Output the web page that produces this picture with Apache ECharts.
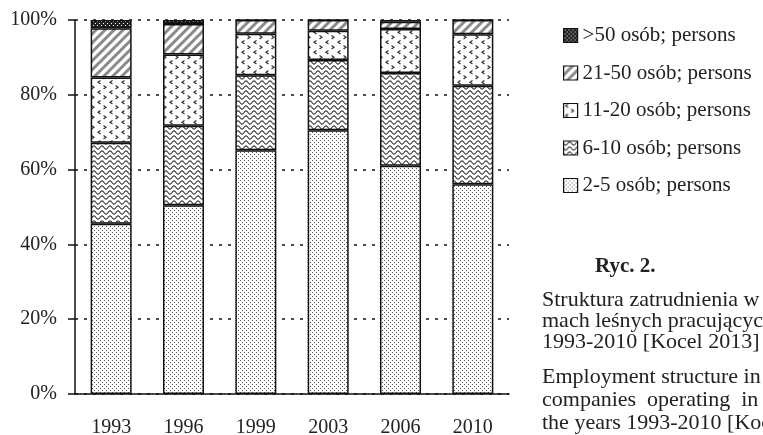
<!DOCTYPE html>
<html>
<head>
<meta charset="utf-8">
<script src="https://cdn.jsdelivr.net/npm/echarts@6/dist/echarts.min.js"></script>
<style>
  html, body { margin: 0; padding: 0; background: #fff; }
  #main { width: 763px; height: 435px; }
</style>
</head>
<body>
<div id="main"></div>
<script>
// dane (udział %)
var years = ['1993', '1996', '1999', '2003', '2006', '2010'];
var s2_5 = [45.5, 50.5, 65.2, 70.5, 61.0, 56.1];
var s6_10 = [21.7, 21.2, 20.0, 18.8, 24.8, 26.3];
var s11_20 = [17.4, 19.1, 11.1, 7.8, 11.8, 13.8];
var s21_50 = [13.2, 8.1, 3.7, 2.9, 1.9, 3.8];
var s50 = [2.2, 1.1, 0, 0, 0.5, 0];
var yTicks = [0, 20, 40, 60, 80, 100];

var names = ['2-5 osób; persons', '6-10 osób; persons', '11-20 osób; persons', '21-50 osób; persons', '>50 osób; persons'];

// wzory wypełnienia (kreskowanie)
function pattern(w, h, draw) {
  var c = document.createElement('canvas');
  c.width = w; c.height = h;
  var ctx = c.getContext('2d');
  ctx.fillStyle = '#fff';
  ctx.fillRect(0, 0, w, h);
  draw(ctx);
  return { image: c, repeat: 'repeat' };
}

var pDots = pattern(4, 4, function (ctx) {
  ctx.fillStyle = '#555';
  ctx.fillRect(0, 0, 1, 1);
  ctx.fillRect(2, 2, 1, 1);
});
var pWave = pattern(8, 5, function (ctx) {
  ctx.strokeStyle = '#333';
  ctx.lineWidth = 1.1;
  ctx.beginPath();
  for (var x = -1; x <= 9; x += 0.5) {
    var y = 2.5 + 1.6 * Math.sin(2 * Math.PI * x / 8);
    if (x === -1) ctx.moveTo(x, y); else ctx.lineTo(x, y);
  }
  ctx.stroke();
});
var pChev = pattern(12, 10, function (ctx) {
  ctx.strokeStyle = '#333';
  ctx.lineWidth = 1.2;
  ctx.beginPath();
  ctx.moveTo(4.5, 0.5); ctx.lineTo(2, 2.2); ctx.lineTo(4.5, 4);
  ctx.moveTo(7.5, 5.5); ctx.lineTo(10, 7.2); ctx.lineTo(7.5, 9);
  ctx.stroke();
});
var pDiag = pattern(9, 9, function (ctx) {
  ctx.strokeStyle = '#8a8a8a';
  ctx.lineWidth = 3;
  ctx.beginPath();
  ctx.moveTo(-1, 10); ctx.lineTo(10, -1);
  ctx.moveTo(-5, 5); ctx.lineTo(5, -5);
  ctx.moveTo(4, 14); ctx.lineTo(14, 4);
  ctx.stroke();
});
var pDark = pattern(4, 4, function (ctx) {
  ctx.fillStyle = '#222';
  ctx.fillRect(0, 0, 4, 4);
  ctx.fillStyle = '#fff';
  ctx.fillRect(1, 1, 1, 1);
  ctx.fillRect(3, 3, 1, 1);
});

var fills = [pDots, pWave, pChev, pDiag, pDark];
var values = [s2_5, s6_10, s11_20, s21_50, s50];

var font = 'Liberation Serif';

var myChart = echarts.init(document.getElementById('main'));

var series = names.map(function (n, i) {
  return {
    name: n,
    type: 'bar',
    stack: 'total',
    barWidth: 41,
    data: values[i],
    itemStyle: {
      color: fills[i],
      borderColor: '#111',
      borderWidth: 1.5
    }
  };
});

var option = {
  animation: false,
  grid: { left: 75, right: 254, top: 20, bottom: 41, containLabel: false, outerBoundsMode: 'none' },
  legend: {
    orient: 'vertical',
    left: 563,
    top: 25,
    padding: 0,
    icon: 'rect',
    itemWidth: 14,
    itemHeight: 14,
    itemGap: 16.5,
    data: names.slice().reverse(),
    itemStyle: { borderColor: '#111', borderWidth: 1.2 },
    textStyle: { fontFamily: font, fontSize: 21, color: '#222' }
  },
  xAxis: {
    type: 'category',
    data: years,
    axisLine: { lineStyle: { color: '#111', width: 1.5 } },
    axisTick: { show: false },
    axisLabel: { fontFamily: font, fontSize: 20, color: '#222', margin: 24 }
  },
  yAxis: {
    type: 'value',
    min: yTicks[0],
    max: yTicks[yTicks.length - 1],
    interval: 20,
    axisLine: { show: true, lineStyle: { color: '#111', width: 1.5 } },
    axisTick: { show: true, length: 7, lineStyle: { color: '#111', width: 1.5 } },
    axisLabel: { fontFamily: font, fontSize: 20, color: '#222', margin: 18, formatter: '{value}%' },
    splitLine: { show: true, lineStyle: { color: '#111', width: 1.5, type: [3, 6] } }
  },
  graphic: [
    { type: 'text', left: 595, top: 256, style: { text: 'Ryc. 2.', font: 'bold 21px "Liberation Serif"', fill: '#222' } },
    { type: 'text', left: 542, top: 289, style: {
      text: 'Struktura zatrudnienia w fir-\nmach leśnych pracujących\n1993-2010 [Kocel 2013]',
      font: '22px "Liberation Serif"', lineHeight: 21, fill: '#222' } },
    { type: 'text', left: 542, top: 366, style: {
      text: 'Employment structure in forest\ncompanies  operating  in  the\nthe years 1993-2010 [Kocel 2013]',
      font: '22px "Liberation Serif"', lineHeight: 23, fill: '#222' } }
  ],
  series: series
};

myChart.setOption(option);
</script>
</body>
</html>
